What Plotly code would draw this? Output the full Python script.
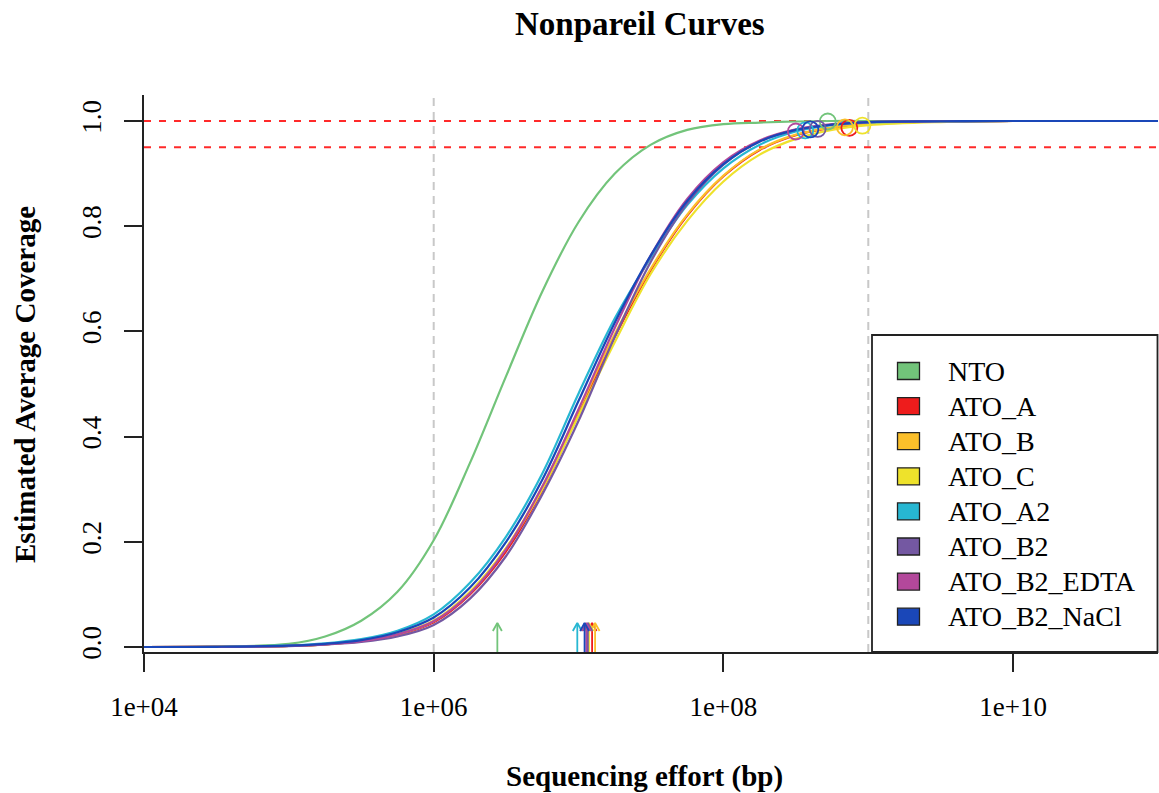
import numpy as np
import plotly.graph_objects as go

# ---------------- data ----------------
samples = ["NTO", "ATO_A", "ATO_B", "ATO_C", "ATO_A2", "ATO_B2", "ATO_B2_EDTA", "ATO_B2_NaCl"]
colors = ["#72C47A", "#EE1C1C", "#FBBF2A", "#EEE22B", "#27B7D2", "#7458A2", "#B3489B", "#1A47B8"]

# sequencing effort grid (bp) at which the fitted curves were read
efforts = [1e4, 3.16e4, 1e5, 1.78e5, 3.16e5, 5.62e5, 1e6, 1.78e6, 3.16e6, 5.62e6,
           1e7, 1.78e7, 3.16e7, 5.62e7, 1e8, 1.78e8, 3.16e8, 5.62e8, 1e9, 3.16e9, 1e10, 1e11]

cov_NTO = [0.000, 0.001, 0.006, 0.020, 0.050, 0.105, 0.203, 0.350, 0.515, 0.676, 0.808,
           0.900, 0.955, 0.983, 0.994, 0.997, 0.999, 1.000, 1.000, 1.000, 1.000, 1.000]
cov_ATO_A = [0.000, 0.0003, 0.002, 0.005, 0.011, 0.023, 0.047, 0.100, 0.182, 0.298, 0.443,
             0.590, 0.717, 0.820, 0.895, 0.945, 0.973, 0.987, 0.995, 0.999, 1.000, 1.000]
cov_ATO_B = [0.000, 0.0003, 0.002, 0.005, 0.011, 0.024, 0.049, 0.104, 0.188, 0.305, 0.450,
             0.595, 0.720, 0.822, 0.896, 0.946, 0.974, 0.988, 0.995, 0.999, 1.000, 1.000]
cov_ATO_C = [0.000, 0.0003, 0.002, 0.005, 0.012, 0.025, 0.050, 0.105, 0.188, 0.300, 0.440,
             0.580, 0.710, 0.810, 0.885, 0.936, 0.966, 0.983, 0.992, 0.998, 1.000, 1.000]
cov_ATO_A2 = [0.000, 0.0005, 0.003, 0.007, 0.015, 0.031, 0.062, 0.122, 0.210, 0.330, 0.482,
              0.625, 0.740, 0.840, 0.910, 0.955, 0.980, 0.992, 0.997, 0.999, 1.000, 1.000]
cov_ATO_B2 = [0.000, 0.0003, 0.0018, 0.0045, 0.0095, 0.020, 0.042, 0.092, 0.173, 0.290, 0.430,
              0.590, 0.733, 0.843, 0.917, 0.961, 0.983, 0.993, 0.998, 0.9995, 1.000, 1.000]
cov_ATO_B2_EDTA = [0.000, 0.0003, 0.002, 0.005, 0.011, 0.024, 0.049, 0.102, 0.186, 0.305, 0.452,
                   0.607, 0.745, 0.852, 0.922, 0.963, 0.984, 0.994, 0.998, 0.9995, 1.000, 1.000]
cov_ATO_B2_NaCl = [0.000, 0.0004, 0.0025, 0.006, 0.013, 0.028, 0.056, 0.113, 0.200, 0.318, 0.468,
                   0.617, 0.745, 0.848, 0.918, 0.961, 0.983, 0.993, 0.998, 0.9995, 1.000, 1.000]
curves = [cov_NTO, cov_ATO_A, cov_ATO_B, cov_ATO_C, cov_ATO_A2, cov_ATO_B2, cov_ATO_B2_EDTA, cov_ATO_B2_NaCl]

# observed (actual) effort and coverage of each dataset (open circles)
obs_effort = [5.25e8, 7.4e8, 6.9e8, 9.1e8, 3.67e8, 4.47e8, 3.16e8, 3.98e8]
obs_cov = [0.999, 0.987, 0.988, 0.991, 0.982, 0.985, 0.980, 0.984]

# Nd (diversity) markers (arrows on the x axis)
nd_effort = [2.75e6, 1.24e7, 1.30e7, 1.18e7, 9.8e6, 1.16e7, 1.13e7, 1.10e7]

# reference lines
ref_efforts = [1e6, 1e9]
ref_coverages = [1.0, 0.95]

x_tick_vals = [1e4, 1e6, 1e8, 1e10]
x_tick_text = ["1e+04", "1e+06", "1e+08", "1e+10"]
y_tick_vals = [0.0, 0.2, 0.4, 0.6, 0.8, 1.0]
y_tick_text = ["0.0", "0.2", "0.4", "0.6", "0.8", "1.0"]

# ---------------- style ----------------
FONT = "Liberation Serif"
XR = [4, 11]
YR = [-0.0095, 1.0494]
PL, PR, PT, PB = 144, 1158, 95, 652   # plot area in pixels
W, H = 1159, 793


def px_to_paper_x(px):
    return (px - PL) / (PR - PL)


def px_to_paper_y(py):
    return (PB - py) / (PB - PT)


fig = go.Figure()

# vertical grey dashed reference lines
for e in ref_efforts:
    fig.add_trace(go.Scatter(x=[e, e], y=YR, mode="lines",
                             line=dict(color="#C8C8C8", width=2, dash="8px,6px"),
                             hoverinfo="skip"))
# horizontal red dashed lines
for c in ref_coverages:
    fig.add_trace(go.Scatter(x=[10 ** XR[0], 10 ** XR[1]], y=[c, c], mode="lines",
                             line=dict(color="#FF2A2A", width=2, dash="7px,8px"),
                             hoverinfo="skip"))

# curves
for name, col, cov in zip(samples, colors, curves):
    fig.add_trace(go.Scatter(x=efforts, y=cov, mode="lines", name=name,
                             line=dict(color=col, width=2.2, shape="spline", smoothing=1.0)))

# observed points
for name, col, e, c in zip(samples, colors, obs_effort, obs_cov):
    fig.add_trace(go.Scatter(x=[e], y=[c], mode="markers",
                             marker=dict(symbol="circle-open", size=16, color=col,
                                         line=dict(width=1.8, color=col)),
                             hoverinfo="skip"))

# Nd arrows
tip = 0.0456
head_dx = 4.5 / 144.8      # decades
head_dy = 8 / 526.0
for col, nd in zip(colors, nd_effort):
    xs = [nd, nd, None, nd * 10 ** (-head_dx), nd, nd * 10 ** head_dx]
    ys = [YR[0], tip, None, tip - head_dy, tip, tip - head_dy]
    fig.add_trace(go.Scatter(x=xs, y=ys, mode="lines",
                             line=dict(color=col, width=1.8), hoverinfo="skip"))

shapes = []
annotations = []

# legend box
shapes.append(dict(type="rect", xref="paper", yref="paper",
                   x0=px_to_paper_x(872), x1=px_to_paper_x(1157.5),
                   y0=px_to_paper_y(652), y1=px_to_paper_y(335),
                   line=dict(color="#222", width=1.8), fillcolor="white", layer="above"))
for i, (name, col) in enumerate(zip(samples, colors)):
    yc = 371 + i * 35.1
    shapes.append(dict(type="rect", xref="paper", yref="paper",
                       x0=px_to_paper_x(897.5), x1=px_to_paper_x(919.5),
                       y0=px_to_paper_y(yc + 8.5), y1=px_to_paper_y(yc - 8.5),
                       line=dict(color="#222", width=1.3), fillcolor=col, layer="above"))
    annotations.append(dict(x=px_to_paper_x(946), y=px_to_paper_y(yc), xref="paper", yref="paper",
                            text=name, showarrow=False, xanchor="left", yanchor="middle",
                            font=dict(family=FONT, size=28, color="black")))

# title and axis titles
annotations.append(dict(x=px_to_paper_x(639.5), y=px_to_paper_y(24), xref="paper", yref="paper",
                        text="<b>Nonpareil Curves</b>", showarrow=False, xanchor="center", yanchor="middle",
                        font=dict(family=FONT, size=33, color="black")))
annotations.append(dict(x=px_to_paper_x(644), y=px_to_paper_y(776), xref="paper", yref="paper",
                        text="<b>Sequencing effort (bp)</b>", showarrow=False, xanchor="center", yanchor="middle",
                        font=dict(family=FONT, size=29, color="black")))
annotations.append(dict(x=px_to_paper_x(25), y=px_to_paper_y(385), xref="paper", yref="paper",
                        text="<b>Estimated Average Coverage</b>", showarrow=False, textangle=-90,
                        xanchor="center", yanchor="middle",
                        font=dict(family=FONT, size=29, color="black")))

fig.update_layout(
    width=W, height=H,
    margin=dict(l=PL, r=W - PR, t=PT, b=H - PB),
    plot_bgcolor="white", paper_bgcolor="white",
    showlegend=False,
    shapes=shapes, annotations=annotations,
    xaxis=dict(type="log", range=XR, showline=True, linecolor="#222", linewidth=2,
               ticks="outside", ticklen=18, tickwidth=2, tickcolor="#222",
               tickvals=x_tick_vals, ticktext=x_tick_text, showgrid=False, zeroline=False,
               tickfont=dict(family=FONT, size=27, color="black"), ticklabelstandoff=12),
    yaxis=dict(range=YR, showline=True, linecolor="#222", linewidth=2,
               ticks="outside", ticklen=18, tickwidth=2, tickcolor="#222",
               tickvals=y_tick_vals, ticktext=y_tick_text, tickangle=-90,
               showgrid=False, zeroline=False,
               tickfont=dict(family=FONT, size=27, color="black"), ticklabelstandoff=12),
)

fig.write_html("out.html", config={"displayModeBar": False},
               post_script="document.body.style.margin='0px';document.body.style.overflow='hidden';")
